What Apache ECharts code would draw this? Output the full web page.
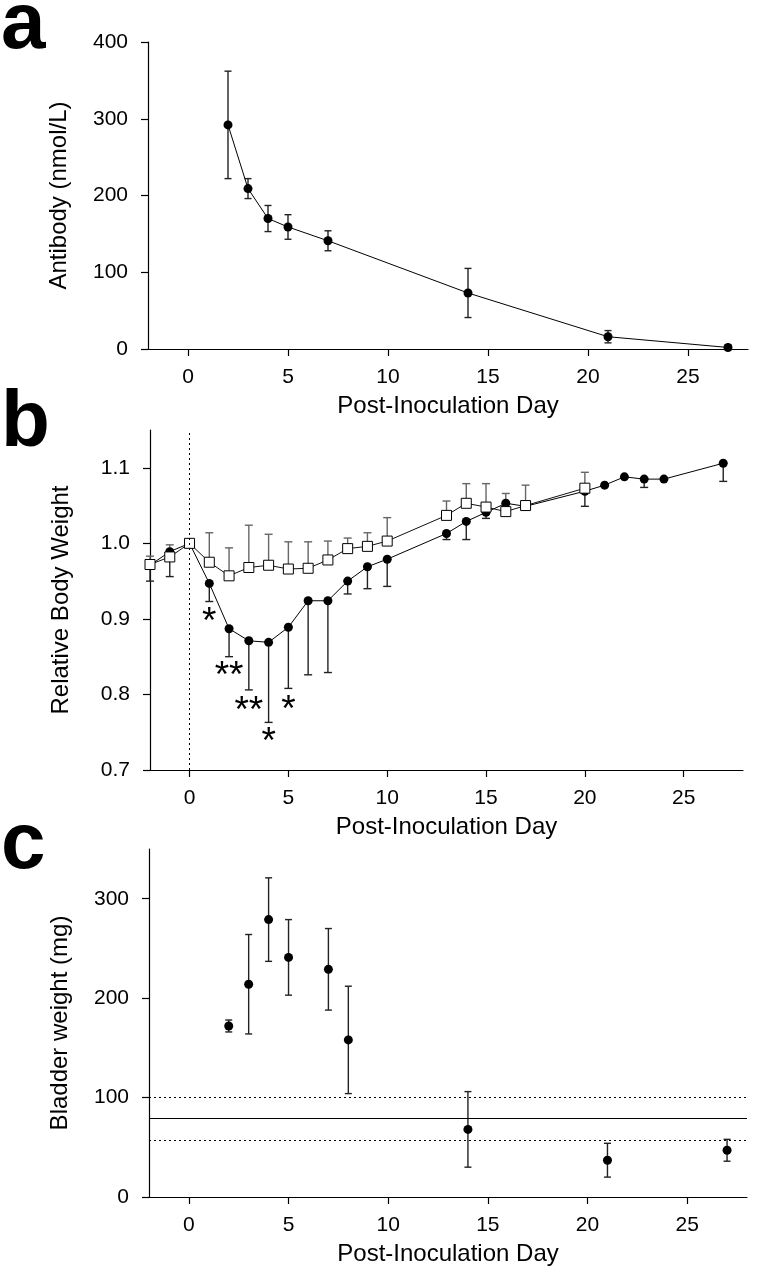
<!DOCTYPE html>
<html>
<head>
<meta charset="utf-8">
<script src="https://cdn.jsdelivr.net/npm/echarts@6/dist/echarts.min.js"></script>
<style>html,body{margin:0;padding:0;background:#fff;}#c{width:758px;height:1280px;}</style>
</head>
<body>
<div id="c"></div>
<script>
// ---------- data ----------
var xTicks = [0, 5, 10, 15, 20, 25];

// panel a: antibody
var aDays = [2, 3, 4, 5, 7, 14, 21, 27];
var aValues = [292, 209, 170, 159, 141, 73, 16, 2];
var aErr = [70, 13, 17, 16, 13, 32, 8, 3];
var aTicks = [0, 100, 200, 300, 400];

// panel b: relative body weight
var bFilledDays = [-2, -1, 0, 1, 2, 3, 4, 5, 6, 7, 8, 9, 10, 13, 14, 15, 16, 17, 20, 21, 22, 23, 24, 27];
var bFilled = [0.971, 0.989, 1.000, 0.947, 0.887, 0.871, 0.869, 0.889, 0.924, 0.924, 0.950, 0.969, 0.979, 1.013, 1.029, 1.041, 1.053, 1.049, 1.069, 1.077, 1.088, 1.085, 1.085, 1.106];
var bFilledLow = [0.950, 0.956, null, 0.923, 0.850, 0.806, 0.763, 0.808, 0.826, 0.829, 0.933, 0.940, 0.943, 1.005, 1.005, 1.033, null, null, 1.049, null, null, 1.074, null, 1.082];
var bOpenDays = [-2, -1, 0, 1, 2, 3, 4, 5, 6, 7, 8, 9, 10, 13, 14, 15, 16, 17, 20];
var bOpen = [0.972, 0.982, 1.000, 0.975, 0.957, 0.968, 0.971, 0.966, 0.967, 0.978, 0.993, 0.996, 1.003, 1.037, 1.053, 1.048, 1.042, 1.050, 1.073];
var bOpenHigh = [0.983, 0.998, null, 1.014, 0.994, 1.024, 1.012, 1.002, 1.002, 1.003, 1.007, 1.014, 1.034, 1.056, 1.079, 1.079, 1.066, 1.077, 1.094];
var bTicks = [0.7, 0.8, 0.9, 1.0, 1.1];
var starDays = [1, 2, 3, 4, 5];
var starY = [0.908, 0.836, 0.790, 0.749, 0.792];
var starText = ['*', '**', '**', '*', '*'];

// panel c: bladder weight
var cDays = [2, 3, 4, 5, 7, 8, 14, 21, 27];
var cValues = [172, 214, 279, 241, 229, 158, 68, 37, 47];
var cErr = [6, 50, 42, 38, 41, 54, 38, 17, 11];
var cTicks = [0, 100, 200, 300];
var cRefUpper = 100, cRefMean = 79, cRefLower = 57;

// ---------- helpers ----------
var FF = '"Liberation Sans", Arial, sans-serif';

function zip(xs, ys) { return xs.map(function (x, i) { return [x, ys[i]]; }); }

function errData(xs, lows, highs) {
  var out = [];
  xs.forEach(function (x, i) {
    if (lows[i] == null || highs[i] == null) return;
    out.push([x, lows[i], highs[i]]);
  });
  return out;
}

function errSeries(gi, data, color, capHalf) {
  return {
    type: 'custom', xAxisIndex: gi, yAxisIndex: gi, z: 1, silent: true,
    data: data,
    renderItem: function (params, api) {
      var x = api.value(0), lo = api.value(1), hi = api.value(2);
      var p1 = api.coord([x, lo]), p2 = api.coord([x, hi]);
      var st = { stroke: color, lineWidth: 1.4 };
      return {
        type: 'group', children: [
          { type: 'line', shape: { x1: p1[0], y1: p1[1], x2: p2[0], y2: p2[1] }, style: st },
          { type: 'line', shape: { x1: p1[0] - capHalf, y1: p1[1], x2: p1[0] + capHalf, y2: p1[1] }, style: st },
          { type: 'line', shape: { x1: p2[0] - capHalf, y1: p2[1], x2: p2[0] + capHalf, y2: p2[1] }, style: st }
        ]
      };
    }
  };
}

function xAx(gi) {
  return {
    type: 'value', gridIndex: gi, min: -2, max: 28,
    axisLine: { onZero: false, lineStyle: { color: '#000', width: 1.2 } },
    axisTick: { customValues: xTicks, length: 7, lineStyle: { color: '#000', width: 1.2 } },
    axisLabel: { customValues: xTicks, margin: 18, fontSize: 21, color: '#000', fontFamily: FF },
    splitLine: { show: false },
    name: 'Post-Inoculation Day', nameLocation: 'middle', nameGap: 45,
    nameTextStyle: { fontSize: 24, color: '#000', fontFamily: FF }
  };
}

function yAx(gi, min, max, ticks, name, fmt) {
  return {
    type: 'value', gridIndex: gi, min: min, max: max,
    axisLine: { show: true, onZero: false, lineStyle: { color: '#000', width: 1.2 } },
    axisTick: { show: true, customValues: ticks, length: 7, lineStyle: { color: '#000', width: 1.2 } },
    axisLabel: { customValues: ticks, margin: 20, fontSize: 21, color: '#000', fontFamily: FF, formatter: fmt },
    splitLine: { show: false },
    name: name, nameLocation: 'middle', nameGap: 77, nameRotate: 90,
    nameTextStyle: { fontSize: 24, color: '#000', fontFamily: FF }
  };
}

function letter(t, y) {
  return { type: 'text', x: 1, y: y, style: { text: t, font: 'bold 80px ' + FF, fill: '#000', verticalAlign: 'middle' } };
}

var chart = echarts.init(document.getElementById('c'), null, { renderer: 'canvas' });

var option = {
  backgroundColor: '#fff',
  animation: false,
  grid: [
    { left: 148, top: 42, width: 600, height: 307 },
    { left: 150, top: 430, width: 593, height: 340 },
    { left: 149, top: 849, width: 598, height: 348 }
  ],
  xAxis: [xAx(0), xAx(1), xAx(2)],
  yAxis: [
    yAx(0, 0, 400, aTicks, 'Antibody (nmol/L)', function (v) { return String(v); }),
    yAx(1, 0.7, 1.15, bTicks, 'Relative Body Weight', function (v) { return v.toFixed(1); }),
    yAx(2, 0, 350, cTicks, 'Bladder weight (mg)', function (v) { return String(v); })
  ],
  graphic: [letter('a', 26), letter('b', 424), letter('c', 846)],
  series: [
    // panel a
    errSeries(0, errData(aDays, aValues.map(function (v, i) { return v - aErr[i]; }), aValues.map(function (v, i) { return v + aErr[i]; })), '#222', 3.5),
    {
      type: 'line', xAxisIndex: 0, yAxisIndex: 0, z: 2, data: zip(aDays, aValues),
      symbol: 'circle', symbolSize: 9, lineStyle: { color: '#000', width: 1 },
      itemStyle: { color: '#000' }
    },
    // panel b
    errSeries(1, errData(bFilledDays, bFilledLow, bFilled), '#222', 4),
    errSeries(1, errData(bOpenDays, bOpen, bOpenHigh), '#666', 4),
    {
      type: 'line', xAxisIndex: 1, yAxisIndex: 1, z: 2, data: zip(bFilledDays, bFilled),
      symbol: 'circle', symbolSize: 9, lineStyle: { color: '#000', width: 1 },
      itemStyle: { color: '#000' },
      markLine: {
        silent: true, symbol: 'none', label: { show: false },
        lineStyle: { color: '#000', type: [2, 3], width: 1 },
        data: [{ xAxis: 0 }]
      }
    },
    {
      type: 'line', xAxisIndex: 1, yAxisIndex: 1, z: 3, data: zip(bOpenDays, bOpen),
      symbol: 'rect', symbolSize: 10, lineStyle: { color: '#111', width: 1 },
      itemStyle: { color: '#fff', borderColor: '#000', borderWidth: 1 }
    },
    {
      type: 'custom', xAxisIndex: 1, yAxisIndex: 1, z: 4, silent: true,
      data: starDays.map(function (d, i) { return [d, starY[i], i]; }),
      renderItem: function (params, api) {
        var p = api.coord([api.value(0), api.value(1)]);
        return {
          type: 'text', x: p[0], y: p[1] + 10,
          style: { text: starText[api.value(2)], font: '37px ' + FF, fill: '#000', align: 'center', verticalAlign: 'middle' }
        };
      }
    },
    // panel c
    errSeries(2, errData(cDays, cValues.map(function (v, i) { return v - cErr[i]; }), cValues.map(function (v, i) { return v + cErr[i]; })), '#222', 3.5),
    {
      type: 'scatter', xAxisIndex: 2, yAxisIndex: 2, z: 2, data: zip(cDays, cValues),
      symbol: 'circle', symbolSize: 9, itemStyle: { color: '#000', opacity: 1 },
      markLine: {
        silent: true, symbol: 'none', label: { show: false },
        data: [
          { yAxis: cRefUpper, lineStyle: { color: '#000', type: [2, 3], width: 1 } },
          { yAxis: cRefMean, lineStyle: { color: '#000', type: 'solid', width: 1.2 } },
          { yAxis: cRefLower, lineStyle: { color: '#000', type: [2, 3], width: 1 } }
        ]
      }
    }
  ]
};
chart.setOption(option);
</script>
</body>
</html>
